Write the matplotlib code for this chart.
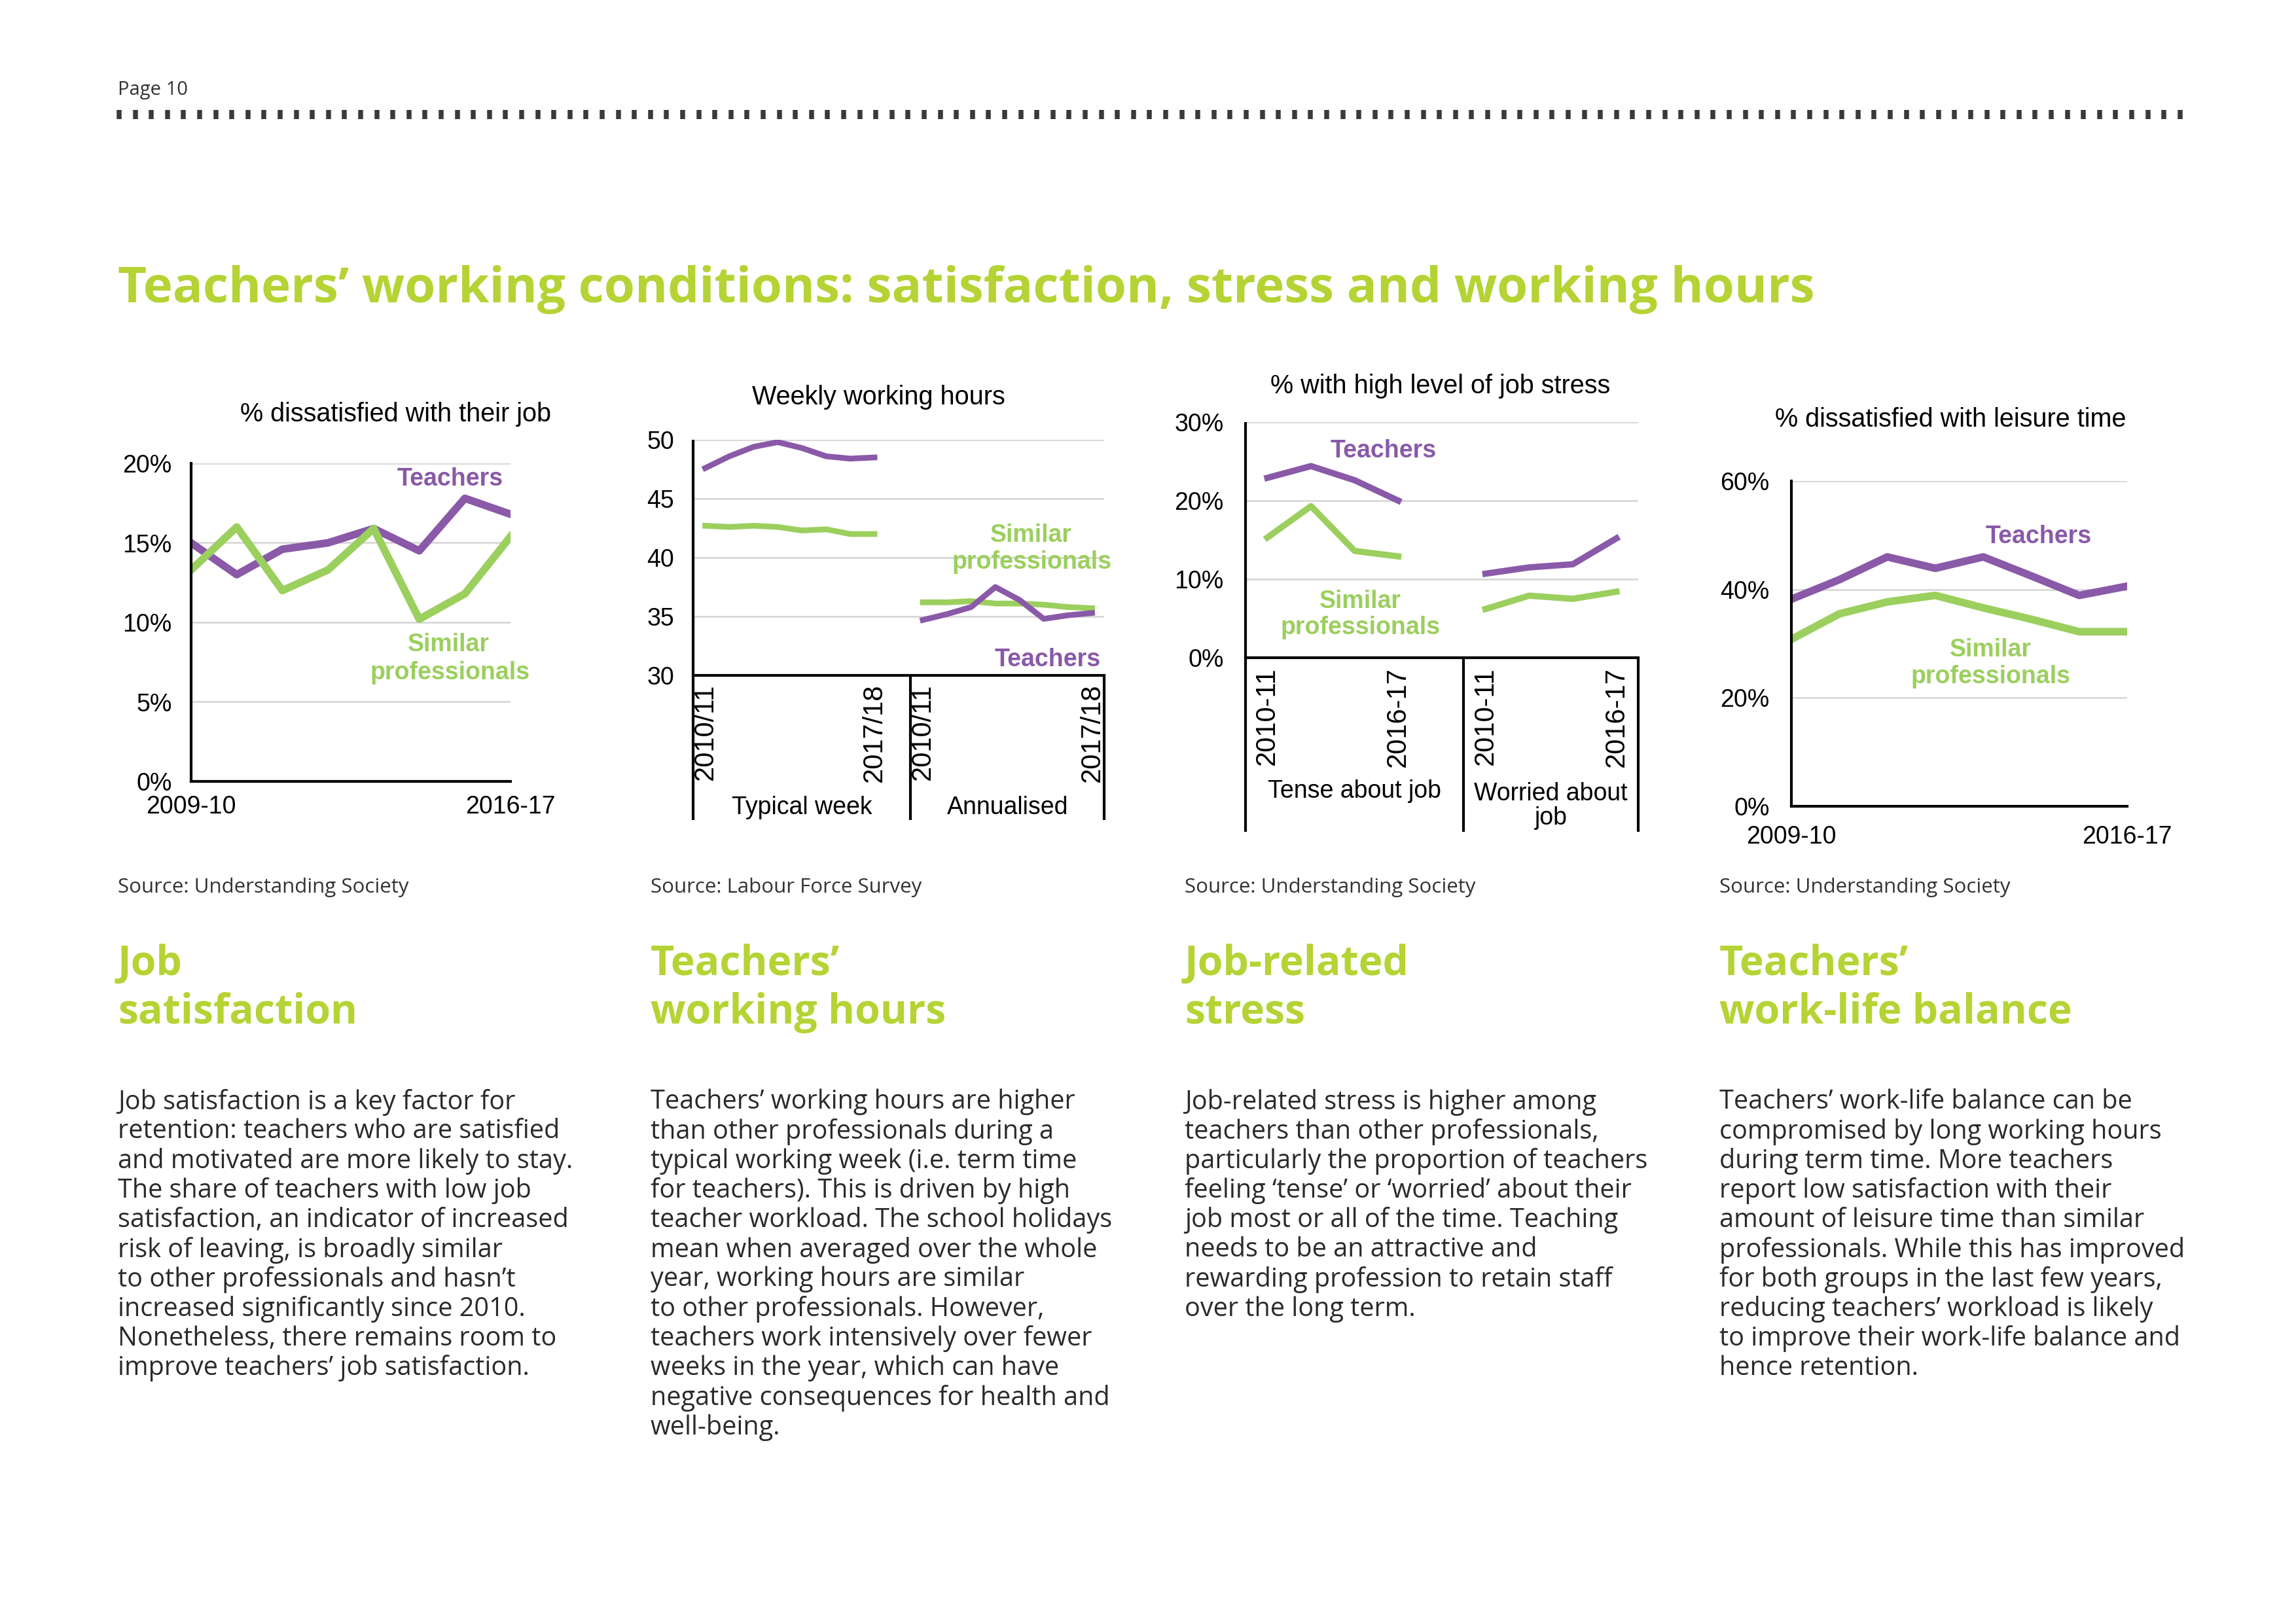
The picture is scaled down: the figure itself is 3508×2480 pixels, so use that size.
import matplotlib
matplotlib.use("Agg")
import matplotlib.pyplot as plt
import matplotlib.transforms as mtransforms
import numpy as np

# ---- data -------------------------------------------------------------
years_short = ["2009-10", "2016-17"]

# % dissatisfied with their job (2009-10 .. 2016-17)
job_teachers = [15.0, 13.0, 14.6, 15.0, 15.9, 14.5, 17.8, 16.8]
job_similar = [13.3, 16.0, 12.0, 13.3, 15.9, 10.2, 11.8, 15.4]

# weekly working hours (2010/11 .. 2017/18)
hours_groups = ["Typical week", "Annualised"]
hours_years = ["2010/11", "2017/18"]
typical_teachers = [47.6, 48.6, 49.4, 49.8, 49.3, 48.6, 48.4, 48.5]
typical_similar = [42.7, 42.6, 42.7, 42.6, 42.3, 42.4, 42.0, 42.0]
annual_teachers = [34.7, 35.2, 35.8, 37.5, 36.4, 34.8, 35.1, 35.3]
annual_similar = [36.2, 36.2, 36.3, 36.1, 36.1, 36.0, 35.8, 35.7]

# % with high level of job stress (2010-11 .. 2016-17, every 2 years)
stress_groups = ["Tense about job", "Worried about\njob"]
stress_years = ["2010-11", "2016-17"]
tense_teachers = [22.9, 24.4, 22.6, 20.0]
tense_similar = [15.3, 19.3, 13.6, 12.9]
worried_teachers = [10.7, 11.5, 11.9, 15.2]
worried_similar = [6.2, 7.9, 7.5, 8.4]

# % dissatisfied with leisure time (2009-10 .. 2016-17)
leisure_teachers = [38.2, 41.8, 46.0, 43.9, 46.0, 42.5, 38.9, 40.6]
leisure_similar = [30.8, 35.5, 37.7, 38.9, 36.6, 34.5, 32.2, 32.2]

sources = ["Source: Understanding Society", "Source: Labour Force Survey",
           "Source: Understanding Society", "Source: Understanding Society"]
headings = [["Job", "satisfaction"], ["Teachers\u2019", "working hours"],
            ["Job-related", "stress"], ["Teachers\u2019", "work-life balance"]]
bodies = [
    ["Job satisfaction is a key factor for",
     "retention: teachers who are satisfied",
     "and motivated are more likely to stay.",
     "The share of teachers with low job",
     "satisfaction, an indicator of increased",
     "risk of leaving, is broadly similar",
     "to other professionals and hasn\u2019t",
     "increased significantly since 2010.",
     "Nonetheless, there remains room to",
     "improve teachers\u2019 job satisfaction."],
    ["Teachers\u2019 working hours are higher",
     "than other professionals during a",
     "typical working week (i.e. term time",
     "for teachers). This is driven by high",
     "teacher workload. The school holidays",
     "mean when averaged over the whole",
     "year, working hours are similar",
     "to other professionals. However,",
     "teachers work intensively over fewer",
     "weeks in the year, which can have",
     "negative consequences for health and",
     "well-being."],
    ["Job-related stress is higher among",
     "teachers than other professionals,",
     "particularly the proportion of teachers",
     "feeling \u2018tense\u2019 or \u2018worried\u2019 about their",
     "job most or all of the time. Teaching",
     "needs to be an attractive and",
     "rewarding profession to retain staff",
     "over the long term."],
    ["Teachers\u2019 work-life balance can be",
     "compromised by long working hours",
     "during term time. More teachers",
     "report low satisfaction with their",
     "amount of leisure time than similar",
     "professionals. While this has improved",
     "for both groups in the last few years,",
     "reducing teachers\u2019 workload is likely",
     "to improve their work-life balance and",
     "hence retention."],
]

# ---- style --------------------------------------------------------------
W, H = 3508, 2480
DPI = 300
LIME = "#B5D334"
PURPLE = "#8A59A8"
GREEN = "#9BCF5E"
GRID = "#D4D4D4"
TXT = "#2A2A2A"
CHART_FONT = "Liberation Sans"
PAGE_FONT = "Open Sans"

fig = plt.figure(figsize=(W / DPI, H / DPI), dpi=DPI)
fig.patch.set_facecolor("white")

# page overlay in pixel coordinates
page = fig.add_axes([0, 0, 1, 1])
page.set_xlim(0, W)
page.set_ylim(H, 0)
page.axis("off")


def add_ax(l, t, r, b):
    return fig.add_axes([l / W, 1 - b / H, (r - l) / W, (b - t) / H])


def style_ax(ax, ymin, ymax, yticks, fmt, pad):
    ax.set_ylim(ymin, ymax)
    ax.set_yticks(yticks)
    ax.set_yticklabels([fmt(v) for v in yticks], fontsize=9, family=CHART_FONT)
    for v in yticks[1:]:
        ax.axhline(v, color=GRID, lw=0.6, zorder=0)
    for s in ["top", "right"]:
        ax.spines[s].set_visible(False)
    ax.spines["left"].set_linewidth(1.0)
    ax.spines["bottom"].set_linewidth(1.0)
    ax.tick_params(axis="y", length=0, pad=pad)
    ax.tick_params(axis="x", length=0)
    ax.set_facecolor("none")


def ctext(ax, x, y, s, color="black", bold=False, size=9.5, **kw):
    ax.text(x, y, s, color=color, fontsize=size, family=CHART_FONT,
            fontweight="bold" if bold else "normal", ha="center", va="center",
            clip_on=False, **kw)


def group_axis(ax, seps, bottom_frac, groups, xs_list, years, lab_y, grp_y):
    # multi-level category axis: separators, rotated year labels, group names
    tr = mtransforms.blended_transform_factory(ax.transData, ax.transAxes)
    for k, xs in enumerate(seps):
        ax.plot([xs, xs], [1 if k == 0 else 0, bottom_frac], transform=tr,
                color="black", lw=1.0, clip_on=False, solid_capstyle="butt")
    for k, (xs, grp) in enumerate(zip(xs_list, groups)):
        for xi, lab in zip([xs[0], xs[-1]], years):
            ax.text(xi, lab_y, lab, rotation=90, ha="center", va="top",
                    fontsize=10, family=CHART_FONT, clip_on=False)
        mid = (seps[k] + seps[k + 1]) / 2
        ctext(ax, mid, grp_y if "\n" not in grp else grp_y - (ax.get_ylim()[1] - ax.get_ylim()[0]) * 0.062,
              grp, size=9.0, linespacing=1.05)


pct = lambda v: f"{v:.0f}%"

# ---- chart 1: job satisfaction -------------------------------------------
ax1 = add_ax(292, 708, 780, 1194)
x8 = np.arange(len(job_teachers))
ax1.plot(x8, job_teachers, color=PURPLE, lw=2.8)
ax1.plot(x8, job_similar, color=GREEN, lw=2.8)
ax1.set_xlim(0, 7)
style_ax(ax1, 0, 20, [0, 5, 10, 15, 20], pct, 7)
ax1.set_xticks([0, 7])
ax1.set_xticklabels(years_short, fontsize=9, family=CHART_FONT)
ax1.tick_params(axis="x", pad=5)
ctext(ax1, 4.48, 23.1, "% dissatisfied with their job")
ctext(ax1, 5.67, 19.0, "Teachers", PURPLE, True, 9)
ctext(ax1, 5.64, 8.6, "Similar", GREEN, True, 9)
ctext(ax1, 5.67, 6.85, "professionals", GREEN, True, 9)

# ---- chart 2: working hours ----------------------------------------------
ax2 = add_ax(1059, 672, 1687, 1032)
xa = np.arange(len(typical_teachers))
xb = xa + len(typical_teachers) + 1
ax2.plot(xa, typical_teachers, color=PURPLE, lw=2.1)
ax2.plot(xa, typical_similar, color=GREEN, lw=2.1)
ax2.plot(xb, annual_similar, color=GREEN, lw=2.1)
ax2.plot(xb, annual_teachers, color=PURPLE, lw=2.1)
ax2.set_xlim(-0.5, xb[-1] + 0.5)
style_ax(ax2, 30, 50, [30, 35, 40, 45, 50], lambda v: f"{v:.0f}", 7)
ax2.set_xticks([])
ax2.spines["left"].set_visible(False)
group_axis(ax2, [-0.5, xa[-1] + 1.5, xb[-1] + 0.5], -(1253 - 1032) / 360,
           hours_groups, [xa, xb], hours_years, 29.3, 18.8)
ctext(ax2, 7.17, 53.6, "Weekly working hours")
ctext(ax2, 13.48, 41.9, "Similar", GREEN, True, 9)
ctext(ax2, 13.5, 39.6, "professionals", GREEN, True, 9)
ctext(ax2, 14.16, 31.35, "Teachers", PURPLE, True, 9)

# ---- chart 3: job stress -------------------------------------------------
ax3 = add_ax(1903, 645, 2503, 1005)
xc = np.arange(len(tense_teachers))
xd = xc + len(tense_teachers) + 1
ax3.plot(xc, tense_teachers, color=PURPLE, lw=2.3)
ax3.plot(xc, tense_similar, color=GREEN, lw=2.3)
ax3.plot(xd, worried_teachers, color=PURPLE, lw=2.3)
ax3.plot(xd, worried_similar, color=GREEN, lw=2.3)
ax3.set_xlim(-0.5, xd[-1] + 0.5)
style_ax(ax3, 0, 30, [0, 10, 20, 30], pct, 8)
ax3.set_xticks([])
ax3.spines["left"].set_visible(False)
group_axis(ax3, [-0.5, xc[-1] + 1.5, xd[-1] + 0.5], -(1271 - 1005) / 360,
           stress_groups, [xc, xd], stress_years, -1.2, -17.0)
ctext(ax3, 3.97, 34.6, "% with high level of job stress")
ctext(ax3, 2.66, 26.3, "Teachers", PURPLE, True, 9)
ctext(ax3, 2.13, 7.2, "Similar", GREEN, True, 9)
ctext(ax3, 2.13, 3.8, "professionals", GREEN, True, 9)

# ---- chart 4: leisure time -----------------------------------------------
ax4 = add_ax(2737, 735, 3250, 1232)
ax4.plot(x8, leisure_teachers, color=PURPLE, lw=2.8)
ax4.plot(x8, leisure_similar, color=GREEN, lw=2.8)
ax4.set_xlim(0, 7)
style_ax(ax4, 0, 60, [0, 20, 40, 60], pct, 8)
ax4.set_xticks([0, 7])
ax4.set_xticklabels(years_short, fontsize=9, family=CHART_FONT)
ax4.tick_params(axis="x", pad=7)
ctext(ax4, 3.32, 71.4, "% dissatisfied with leisure time")
ctext(ax4, 5.15, 49.7, "Teachers", PURPLE, True, 9)
ctext(ax4, 4.15, 28.8, "Similar", GREEN, True, 9)
ctext(ax4, 4.15, 23.9, "professionals", GREEN, True, 9)

# ---- page furniture --------------------------------------------------------
page.text(180, 137, "Page 10", fontsize=7.0, family=PAGE_FONT, color="#333333",
          ha="left", va="center")
dots = np.arange(182, 3350, 24.6)
page.vlines(dots, 168, 182, color="#3A3A3A", lw=1.8)

page.text(180, 443, "Teachers\u2019 working conditions: satisfaction, stress and working hours",
          fontsize=18.3, family=PAGE_FONT, fontweight="bold", color=LIME,
          ha="left", va="center")

col_x = [180, 994, 1810, 2627]
for cx, src, head, body in zip(col_x, sources, headings, bodies):
    page.text(cx, 1356, src, fontsize=7.5, family=PAGE_FONT, color="#333333",
              ha="left", va="center")
    for i, line in enumerate(head):
        page.text(cx, 1473 + i * 74, line, fontsize=15.0, family=PAGE_FONT,
                  fontweight="bold", color=LIME, ha="left", va="center")
    for i, line in enumerate(body):
        page.text(cx, 1684 + i * 45.2, line, fontsize=9.5, family=PAGE_FONT,
                  color=TXT, ha="left", va="center")

fig.savefig("out.png", dpi=DPI)
